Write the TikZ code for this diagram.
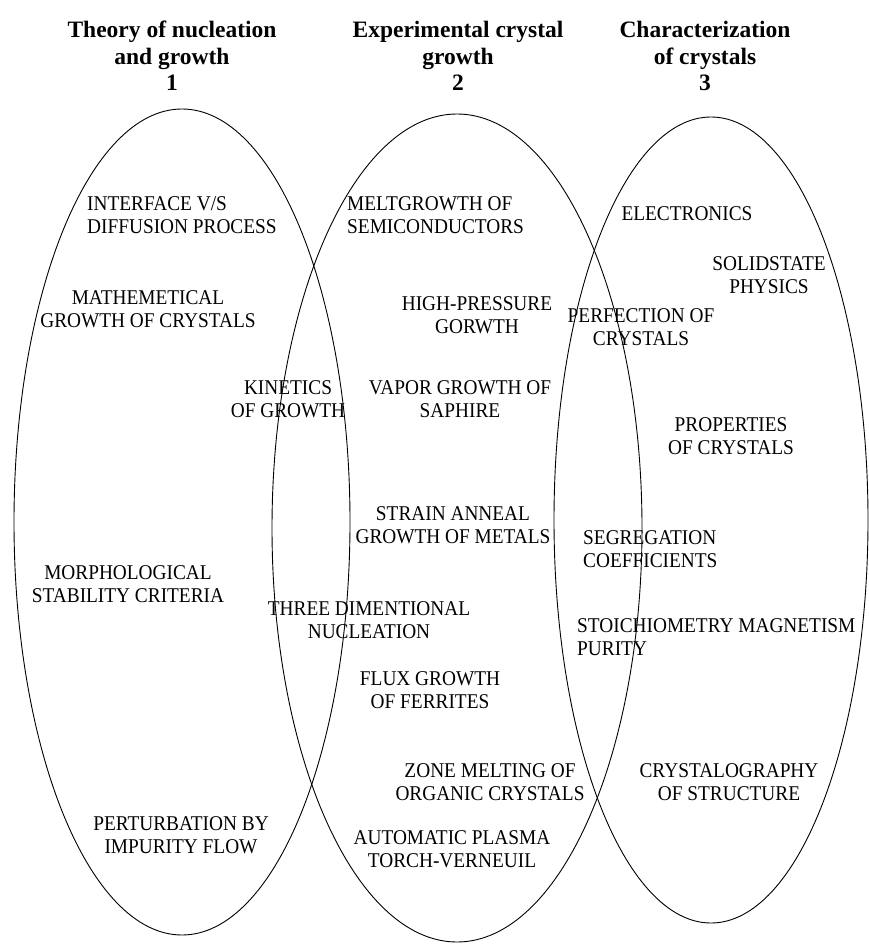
\documentclass[tikz,border=0pt]{standalone}
\usepackage{fontspec}
\setmainfont{Liberation Serif}
\newfontfamily\capsfont{Liberation Serif}[FakeStretch=0.92]
\tikzset{
  venn/.style={draw=black,line width=0.9pt},
  ttl/.style ={align=center,inner sep=0pt,anchor=base,
               font=\fontsize{23.5}{26.5}\selectfont\bfseries},
  lbl/.style ={align=center,inner sep=0pt,anchor=base,
               font=\capsfont\fontsize{21}{22.5}\selectfont},
  lbll/.style={lbl,align=left,anchor=base west},
}
\begin{document}
\begin{tikzpicture}[x=1pt,y=-1pt]
\useasboundingbox[fill=white] (0,0) rectangle (869,944);
% the three sets
\coordinate (c1) at (182,522);
\coordinate (c2) at (457,528);
\coordinate (c3) at (711,520);
\draw[venn] (c1) ellipse [x radius=168,y radius=413];
\draw[venn] (c2) ellipse [x radius=185,y radius=414];
\draw[venn] (c3) ellipse [x radius=157,y radius=403];
% headings (base = last line)
\node[ttl] (t1) at (172,91) {Theory of nucleation\\and growth\\1};
\node[ttl] (t2) at (458,91) {Experimental crystal\\growth\\2};
\node[ttl] (t3) at (705,91) {Characterization\\of crystals\\3};
% set 1
\node[lbll] (iface)    at (87,233)  {INTERFACE V/S\\DIFFUSION PROCESS};
\node[lbl]  (mathgr)   at (148,327) {MATHEMETICAL\\GROWTH OF CRYSTALS};
\node[lbl]  (morph)    at (128,602) {MORPHOLOGICAL\\STABILITY CRITERIA};
\node[lbl]  (perturb)  at (181,853) {PERTURBATION BY\\IMPURITY FLOW};
% sets 1 and 2
\node[lbl]  (kinetics) at (288,417) {KINETICS\\OF GROWTH};
\node[lbl]  (threed)   at (369,638) {THREE DIMENTIONAL\\NUCLEATION};
% set 2
\node[lbll] (meltgr)   at (347,233) {MELTGROWTH OF\\SEMICONDUCTORS};
\node[lbl]  (hipress)  at (477,333) {HIGH-PRESSURE\\GORWTH};
\node[lbl]  (vapor)    at (460,417) {VAPOR GROWTH OF\\SAPHIRE};
\node[lbl]  (strain)   at (453,543) {STRAIN ANNEAL\\GROWTH OF METALS};
\node[lbl]  (flux)     at (430,708) {FLUX GROWTH\\OF FERRITES};
\node[lbl]  (zone)     at (490,800) {ZONE MELTING OF\\ORGANIC CRYSTALS};
\node[lbl]  (plasma)   at (452,867) {AUTOMATIC PLASMA\\TORCH-VERNEUIL};
% sets 2 and 3
\node[lbl]  (perfect)  at (641,345) {PERFECTION OF\\CRYSTALS};
\node[lbll] (segreg)   at (583,567) {SEGREGATION\\COEFFICIENTS};
\node[lbll] (stoich)   at (577,655) {STOICHIOMETRY MAGNETISM\\PURITY};
% set 3
\node[lbl]  (electr)   at (687,220) {ELECTRONICS};
\node[lbl]  (solid)    at (769,293) {SOLIDSTATE\\PHYSICS};
\node[lbl]  (propert)  at (731,454) {PROPERTIES\\OF CRYSTALS};
\node[lbl]  (crystal)  at (729,800) {CRYSTALOGRAPHY\\OF STRUCTURE};
\end{tikzpicture}
\end{document}
